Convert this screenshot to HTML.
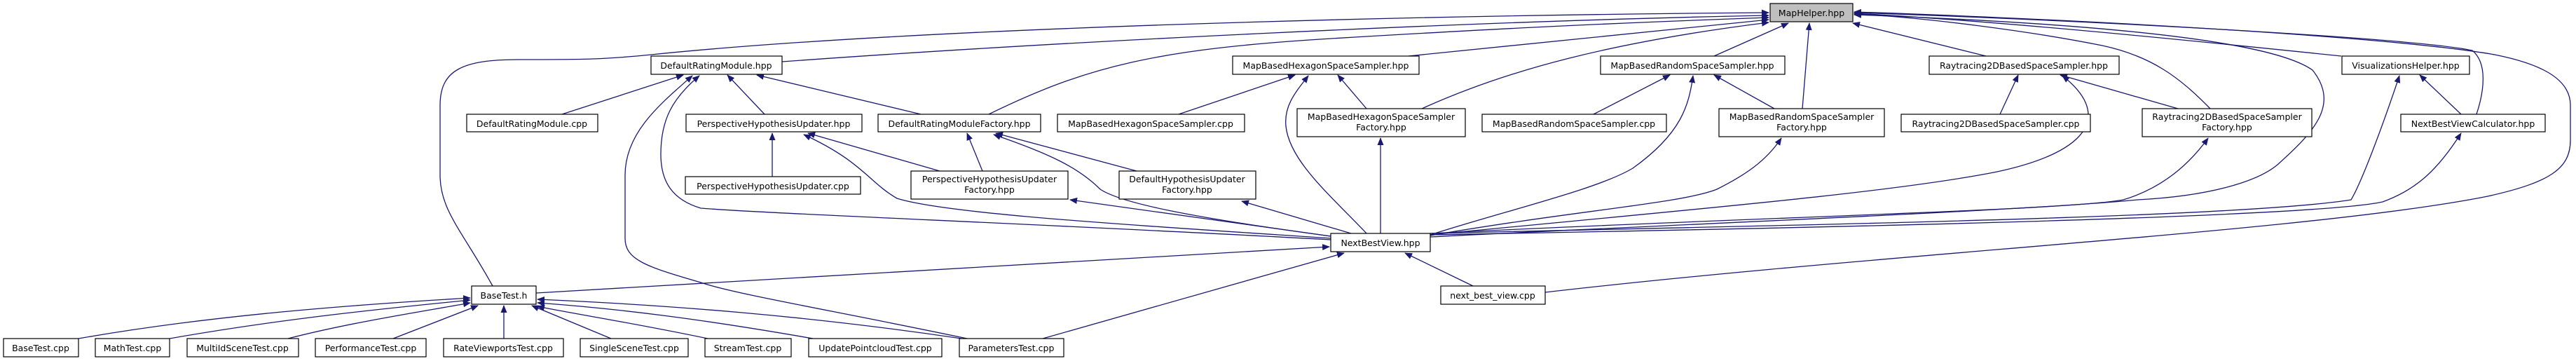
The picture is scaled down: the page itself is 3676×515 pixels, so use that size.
<!DOCTYPE html>
<html><head><meta charset="utf-8"><style>
html,body{margin:0;padding:0;background:#fff;}
svg{display:block;}
text{font-family:"DejaVu Sans","Liberation Sans",sans-serif;font-size:12.5px;fill:#000;}
.e{fill:none;stroke:#191970;stroke-width:1.3;marker-end:url(#a);}
.n{fill:#fff;stroke:#000;stroke-width:1.2;}
</style></head><body>
<svg width="3676" height="515" viewBox="0 0 3676 515" xmlns="http://www.w3.org/2000/svg">
<defs><marker id="a" markerUnits="userSpaceOnUse" markerWidth="11" markerHeight="9" refX="10" refY="4.5" orient="auto"><path d="M0,0 L11,4.5 L0,9 z" fill="#191970"/></marker></defs>
<g>
<!-- edges to MapHelper -->
<path class="e" d="M703,408 C660,330 628,300 628,250 L628,150 C628,100 660,85 740,85 C830,85 860,85 929,78 C1300,40 2000,22 2524,18"/>
<path class="e" d="M1116,88 C1500,60 2100,30 2524,22"/>
<path class="e" d="M1411,163 C1550,95 1650,70 1900,55 S2300,33 2524,25"/>
<path class="e" d="M2010,80 L2524,28"/>
<path class="e" d="M2029,155 C2150,100 2300,60 2524,32"/>
<path class="e" d="M2446,80 L2552,33"/>
<path class="e" d="M2572,155 L2582,33"/>
<path class="e" d="M2834,80 L2644,33"/>
<path class="e" d="M3154,155 C3110,110 3070,80 3000,65 C2900,45 2750,25 2646,20"/>
<path class="e" d="M3341,80 C3100,55 2850,30 2646,19"/>
<path class="e" d="M3534,163 C3545,130 3550,90 3528,72 C3450,55 3000,30 2646,18"/>
<path class="e" d="M2205,417 C2700,360 3300,330 3550,280 C3640,260 3668,240 3668,200 L3668,150 C3668,110 3620,90 3560,78 C3400,50 2900,25 2646,17"/>
<path class="e" d="M2041,338 C2400,320 2900,300 3050,285 C3150,280 3220,260 3250,235 C3300,190 3340,150 3300,100 C3230,50 2900,30 2646,21"/>
<!-- NBV to headers -->
<path class="e" d="M1899,342 C1500,320 1100,305 1000,297 C960,285 943,260 943,220 C943,170 960,140 998,108"/>
<path class="e" d="M1899,340 C1600,320 1350,305 1280,283 C1240,260 1230,230 1147,192"/>
<path class="e" d="M1899,337 C1700,310 1600,290 1570,270 C1540,240 1500,220 1418,192"/>
<path class="e" d="M1899,337 L1527,285"/>
<path class="e" d="M1928,333 L1772,287"/>
<path class="e" d="M1950,333 C1900,280 1840,230 1835,180 C1832,150 1850,130 1867,108"/>
<path class="e" d="M1970,333 L1970,197"/>
<path class="e" d="M2041,335 C2150,300 2280,270 2330,240 C2400,190 2410,150 2416,108"/>
<path class="e" d="M2041,336 C2250,300 2400,290 2450,270 C2490,250 2520,230 2542,197"/>
<path class="e" d="M2041,335 C2400,300 2700,275 2850,245 C2990,215 3010,160 2943,108"/>
<path class="e" d="M2041,333 C2500,310 2950,300 3030,285 C3080,270 3120,240 3151,197"/>
<path class="e" d="M2041,333 C2600,320 3200,310 3355,285 C3370,260 3400,180 3424,108"/>
<path class="e" d="M2041,335 C2600,325 3300,310 3400,288 C3450,270 3480,240 3512,190"/>
<!-- other -->
<path class="e" d="M802,163 L975,107"/>
<path class="e" d="M1091,163 L1038,107"/>
<path class="e" d="M1314,163 L1080,107"/>
<path class="e" d="M1380,483 C1200,445 1050,420 1000,403 C920,380 892,370 892,340 L892,250 C892,190 940,150 988,108"/>
<path class="e" d="M1682,163 L1848,107"/>
<path class="e" d="M1950,155 L1909,107"/>
<path class="e" d="M2274,163 L2383,107"/>
<path class="e" d="M2532,155 L2446,107"/>
<path class="e" d="M2854,163 L2880,107"/>
<path class="e" d="M3108,155 L2940,107"/>
<path class="e" d="M3512,163 L3453,107"/>
<path class="e" d="M1102,252 L1102,190"/>
<path class="e" d="M1341,244 L1153,190"/>
<path class="e" d="M1402,244 L1380,190"/>
<path class="e" d="M1622,244 L1421,190"/>
<path class="e" d="M765,418 L1897,352"/>
<path class="e" d="M1488,483 L1918,361"/>
<path class="e" d="M2102,408 L2005,361"/>
<!-- tests to BaseTest.h -->
<path class="e" d="M112,483 C300,450 500,435 671,425"/>
<path class="e" d="M242,483 C400,455 550,440 671,428"/>
<path class="e" d="M411,483 C500,460 600,445 671,432"/>
<path class="e" d="M561,483 L682,436"/>
<path class="e" d="M719,483 L719,436"/>
<path class="e" d="M872,483 L759,436"/>
<path class="e" d="M1010,483 C900,460 820,448 767,437"/>
<path class="e" d="M1160,483 C1000,455 880,440 767,432"/>
<path class="e" d="M1372,483 C1150,450 950,435 767,427"/>
</g>
<g>
<rect x="2526" y="5" width="118" height="26" fill="#bfbfbf" stroke="#000" stroke-width="1.2"/>
<text x="2585" y="23" text-anchor="middle">MapHelper.hpp</text>

<rect class="n" x="929" y="80" width="187" height="26"/><text x="1022" y="98" text-anchor="middle">DefaultRatingModule.hpp</text>
<rect class="n" x="1759" y="80" width="266" height="26"/><text x="1892" y="98" text-anchor="middle">MapBasedHexagonSpaceSampler.hpp</text>
<rect class="n" x="2284" y="80" width="263" height="26"/><text x="2415" y="98" text-anchor="middle">MapBasedRandomSpaceSampler.hpp</text>
<rect class="n" x="2753" y="80" width="271" height="26"/><text x="2888" y="98" text-anchor="middle">Raytracing2DBasedSpaceSampler.hpp</text>
<rect class="n" x="3342" y="80" width="182" height="26"/><text x="3433" y="98" text-anchor="middle">VisualizationsHelper.hpp</text>

<rect class="n" x="666" y="163" width="187" height="25"/><text x="759" y="181" text-anchor="middle">DefaultRatingModule.cpp</text>
<rect class="n" x="979" y="163" width="251" height="25"/><text x="1104" y="181" text-anchor="middle">PerspectiveHypothesisUpdater.hpp</text>
<rect class="n" x="1253" y="163" width="232" height="25"/><text x="1369" y="181" text-anchor="middle">DefaultRatingModuleFactory.hpp</text>
<rect class="n" x="1509" y="163" width="267" height="25"/><text x="1642" y="181" text-anchor="middle">MapBasedHexagonSpaceSampler.cpp</text>
<rect class="n" x="1851" y="155" width="240" height="40"/><text x="1971" y="171" text-anchor="middle">MapBasedHexagonSpaceSampler</text><text x="1971" y="186" text-anchor="middle">Factory.hpp</text>
<rect class="n" x="2115" y="163" width="263" height="25"/><text x="2246" y="181" text-anchor="middle">MapBasedRandomSpaceSampler.cpp</text>
<rect class="n" x="2453" y="155" width="236" height="40"/><text x="2571" y="171" text-anchor="middle">MapBasedRandomSpaceSampler</text><text x="2571" y="186" text-anchor="middle">Factory.hpp</text>
<rect class="n" x="2713" y="163" width="270" height="25"/><text x="2848" y="181" text-anchor="middle">Raytracing2DBasedSpaceSampler.cpp</text>
<rect class="n" x="3057" y="155" width="242" height="40"/><text x="3178" y="171" text-anchor="middle">Raytracing2DBasedSpaceSampler</text><text x="3178" y="186" text-anchor="middle">Factory.hpp</text>
<rect class="n" x="3426" y="163" width="206" height="25"/><text x="3529" y="181" text-anchor="middle">NextBestViewCalculator.hpp</text>

<rect class="n" x="978" y="252" width="250" height="25"/><text x="1103" y="270" text-anchor="middle">PerspectiveHypothesisUpdater.cpp</text>
<rect class="n" x="1300" y="244" width="224" height="40"/><text x="1412" y="260" text-anchor="middle">PerspectiveHypothesisUpdater</text><text x="1412" y="275" text-anchor="middle">Factory.hpp</text>
<rect class="n" x="1597" y="244" width="195" height="40"/><text x="1694" y="260" text-anchor="middle">DefaultHypothesisUpdater</text><text x="1694" y="275" text-anchor="middle">Factory.hpp</text>

<rect class="n" x="1899" y="333" width="142" height="26"/><text x="1970" y="351" text-anchor="middle">NextBestView.hpp</text>
<rect class="n" x="673" y="408" width="92" height="26"/><text x="719" y="426" text-anchor="middle">BaseTest.h</text>
<rect class="n" x="2056" y="408" width="149" height="26"/><text x="2130" y="426" text-anchor="middle">next_best_view.cpp</text>

<rect class="n" x="5" y="483" width="107" height="26"/><text x="58" y="501" text-anchor="middle">BaseTest.cpp</text>
<rect class="n" x="136" y="483" width="106" height="26"/><text x="189" y="501" text-anchor="middle">MathTest.cpp</text>
<rect class="n" x="267" y="483" width="159" height="26"/><text x="346" y="501" text-anchor="middle">MultiIdSceneTest.cpp</text>
<rect class="n" x="450" y="483" width="158" height="26"/><text x="529" y="501" text-anchor="middle">PerformanceTest.cpp</text>
<rect class="n" x="633" y="483" width="171" height="26"/><text x="718" y="501" text-anchor="middle">RateViewportsTest.cpp</text>
<rect class="n" x="828" y="483" width="154" height="26"/><text x="905" y="501" text-anchor="middle">SingleSceneTest.cpp</text>
<rect class="n" x="1006" y="483" width="123" height="26"/><text x="1067" y="501" text-anchor="middle">StreamTest.cpp</text>
<rect class="n" x="1154" y="483" width="190" height="26"/><text x="1249" y="501" text-anchor="middle">UpdatePointcloudTest.cpp</text>
<rect class="n" x="1369" y="483" width="149" height="26"/><text x="1443" y="501" text-anchor="middle">ParametersTest.cpp</text>
</g>
</svg>
</body></html>
